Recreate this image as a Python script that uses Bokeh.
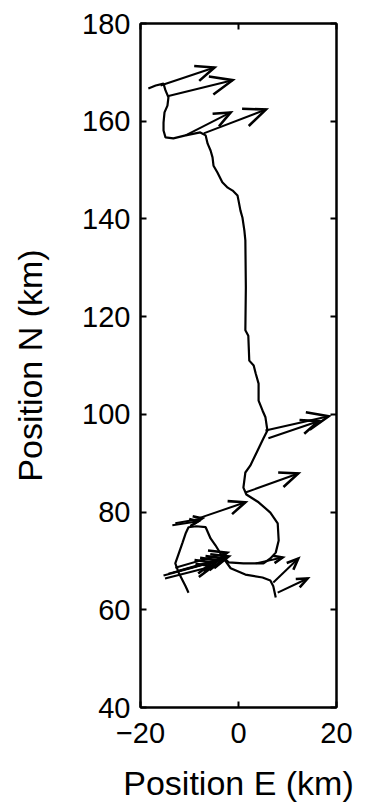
from bokeh.plotting import figure
from bokeh.models import Range1d, FixedTicker, LinearAxis
from bokeh.embed import file_html
from bokeh.resources import INLINE

# Ship track (Position E, Position N in km), from the northern end southwards
track_e = [-18.4, -16.9, -15.3, -14.9, -14.3, -14.5, -15.1, -15.3, -15.3, -14.9,
           -13.3, -10.8, -7.8, -6.7, -6.3, -5.7, -5.3, -5.1, -4.3, -3.3,
           -2.2, -1.2, -0.2, 0.0, 0.4, 0.8, 1.2, 1.4, 1.5, 1.4,
           2.0, 2.2, 3.1, 3.5, 4.1, 4.1, 4.9, 5.5, 5.9, 5.1,
           3.9, 2.4, 1.4, 1.0, 1.6, 4.1, 6.5, 8.0, 8.2, 7.6,
           6.5, 5.1, 1.0, -2.0, -3.3, -4.7, -5.7, -6.7, -8.6, -10.2,
           -10.8, -11.4, -12.2, -12.9, -12.2, -11.4, -10.8, -10.2]
track_n = [166.7, 167.3, 167.7, 166.3, 164.9, 163.2, 161.8, 159.7, 158.1, 156.7,
           156.5, 157.1, 157.7, 157.1, 155.4, 154.0, 152.6, 150.9, 149.5, 147.5,
           146.4, 145.8, 144.8, 143.8, 141.7, 140.3, 137.6, 135.6, 126.0, 117.2,
           116.1, 111.0, 110.0, 108.4, 106.3, 102.8, 100.8, 99.4, 96.7, 95.1,
           92.6, 89.5, 88.1, 85.0, 83.6, 82.0, 79.9, 77.7, 74.2, 71.7,
           70.5, 69.5, 69.5, 69.7, 70.9, 73.2, 74.6, 76.9, 77.1, 76.9,
           75.6, 73.8, 71.5, 69.5, 67.6, 66.0, 64.8, 63.5]

# Side branch of the track in the south-east
branch_e = [-3.3, -1.6, 1.4, 4.9, 6.5, 7.1, 7.6]
branch_n = [70.9, 68.5, 67.2, 66.6, 66.0, 64.8, 62.5]

# Quiver vectors: base (E, N) and components (u, v), km
q_e = [-15.9, -14.5, -10.8, -7.1, 5.5, 6.1, 1.4, -15.3, -14.3, -13.3,
       -12.2, -15.0, -12.9, -13.5, -12.9, -8.2, 3.5, 7.1, 8.0]
q_n = [167.3, 165.1, 157.1, 157.5, 96.7, 95.1, 84.0, 67.0, 67.4, 67.6,
       68.0, 66.4, 68.6, 77.3, 77.7, 78.7, 69.5, 65.6, 63.5]
q_u = [11.0, 13.3, 9.2, 12.7, 12.9, 10.2, 10.8, 10.0, 10.2, 10.4,
       10.2, 9.8, 10.6, 5.3, 5.5, 9.6, 5.5, 5.1, 6.1]
q_v = [3.7, 3.3, 4.7, 4.9, 2.9, 3.5, 3.9, 2.7, 2.7, 2.9,
       2.9, 2.5, 3.1, 0.8, 1.0, 3.3, 1.2, 4.9, 2.9]

x_ticks = [-20, 0, 20]
y_ticks = [40, 60, 80, 100, 120, 140, 160, 180]

FONT = "Liberation Sans"

p = figure(width=362, height=805,
           x_range=Range1d(-20, 20), y_range=Range1d(40, 180),
           output_backend="svg", toolbar_location=None,
           min_border_left=140, min_border_right=26,
           min_border_top=23, min_border_bottom=98)

p.grid.visible = False
p.outline_line_color = "black"
p.outline_line_width = 2
p.background_fill_color = "white"
p.border_fill_color = "white"

# track
p.line(track_e, track_n, line_color="black", line_width=2.2)
p.line(branch_e, branch_n, line_color="black", line_width=2.2)

# quiver arrows (MATLAB-style heads)
alpha, beta = 0.33, 0.42
sx, sy, hx, hy = [], [], [], []
for x, y, u, v in zip(q_e, q_n, q_u, q_v):
    tx, ty = x + u, y + v
    sx.append([x, tx])
    sy.append([y, ty])
    b1x = tx - alpha * (u + beta * v)
    b1y = ty - alpha * (v - beta * u)
    b2x = tx - alpha * (u - beta * v)
    b2y = ty - alpha * (v + beta * u)
    hx.append([b1x, tx, b2x])
    hy.append([b1y, ty, b2y])
p.multi_line(sx, sy, line_color="black", line_width=2)
p.multi_line(hx, hy, line_color="black", line_width=2.6, line_join="miter")

# axes
for ax in (p.xaxis[0], p.yaxis[0]):
    ax.major_tick_in = 6
    ax.major_tick_out = 0
    ax.minor_tick_line_color = None
    ax.axis_line_width = 2
    ax.major_tick_line_width = 2
    ax.major_label_text_font = FONT
    ax.major_label_text_font_size = "29px"
    ax.major_label_text_color = "black"
    ax.axis_label_text_font = FONT
    ax.axis_label_text_font_size = "34px"
    ax.axis_label_text_font_style = "normal"
    ax.axis_label_text_color = "black"

p.xaxis.ticker = FixedTicker(ticks=x_ticks)
p.yaxis.ticker = FixedTicker(ticks=y_ticks)
p.xaxis.axis_label = "Position E (km)"
p.yaxis.axis_label = "Position N (km)"
p.xaxis.major_label_standoff = 15
p.yaxis.major_label_standoff = 10
p.xaxis.axis_label_standoff = 18
p.yaxis.axis_label_standoff = 30

# mirrored ticks on top and right (no labels)
top = LinearAxis(ticker=FixedTicker(ticks=x_ticks),
                 major_label_overrides={t: "" for t in x_ticks})
right = LinearAxis(ticker=FixedTicker(ticks=y_ticks),
                   major_label_overrides={t: "" for t in y_ticks})
for ax in (top, right):
    ax.major_tick_in = 6
    ax.major_tick_out = 0
    ax.minor_tick_line_color = None
    ax.axis_line_width = 2
    ax.major_tick_line_width = 2
    ax.major_label_standoff = 0
p.add_layout(top, "above")
p.add_layout(right, "right")

open("out.html", "w").write(file_html(p, INLINE))
